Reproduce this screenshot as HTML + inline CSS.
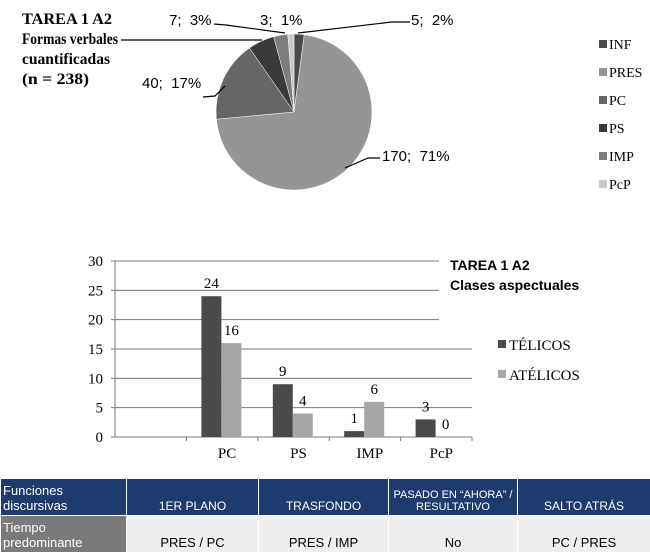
<!DOCTYPE html>
<html><head><meta charset="utf-8"><style>
body{margin:0;width:650px;height:554px;background:#fff;overflow:hidden;position:relative;font-family:"Liberation Serif",serif}
svg{position:absolute;left:0;top:0}
svg text{white-space:pre}
table{position:absolute;left:0;top:478px;width:650px;border-collapse:collapse;font-family:"Liberation Sans",sans-serif;table-layout:fixed}
td{border:1px solid #fff;font-size:12px;text-align:center;vertical-align:bottom;padding:0 2px 2px;height:34px}
.h td{background:#1f3a6d;color:#fff}
.h td.f{text-align:left;font-size:13px}
.b td{background:#eeeeee;color:#000;font-size:13px}
.b td.f{background:#7a7a7a;color:#fff;text-align:left}
</style></head><body>
<svg width="650" height="554" id="s">
<g id="pie"></g>
<g font-family="Liberation Sans" font-size="15" fill="#000">
<text x="169" y="25">7;  3%</text>
<text x="260" y="25">3;  1%</text>
<text x="411" y="25">5;  2%</text>
<text x="142" y="88">40;  17%</text>
<text x="382" y="161">170;  71%</text>
</g>
<g stroke="#000" stroke-width="1.2" fill="none">
<polyline points="214,24 226,25 285,33"/>
<line x1="121" y1="40" x2="262" y2="40"/>
<polyline points="298,33 392,22 410,22"/>
<polyline points="203,97 215,96 225,86"/>
<polyline points="345,168 368,158 380,158"/>
</g>
<g font-family="Liberation Serif" font-weight="bold" font-size="16">
<text x="22" y="24" textLength="90" lengthAdjust="spacingAndGlyphs">TAREA 1 A2</text>
<text x="22" y="44" textLength="96" lengthAdjust="spacingAndGlyphs">Formas verbales</text>
<text x="22" y="64" textLength="88" lengthAdjust="spacingAndGlyphs">cuantificadas</text>
<text x="22" y="84" textLength="67" lengthAdjust="spacingAndGlyphs">(n = 238)</text>
</g>
<g id="pleg"></g>
<g id="bar" font-family="Liberation Serif"></g>
<g font-family="Liberation Sans" font-weight="bold" font-size="14">
<text x="450" y="270">TAREA 1 A2</text>
<text x="450" y="290">Clases aspectuales</text>
</g>
</svg>
<table>
<colgroup><col style="width:126px"><col style="width:132px"><col style="width:130px"><col style="width:129px"><col style="width:133px"></colgroup>
<tr class="h"><td class="f">Funciones<br>discursivas</td><td>1ER PLANO</td><td>TRASFONDO</td><td style="font-size:11px">PASADO EN “AHORA” /<br>RESULTATIVO</td><td>SALTO ATRÁS</td></tr>
<tr class="b"><td class="f">Tiempo<br>predominante</td><td>PRES / PC</td><td>PRES / IMP</td><td>No</td><td>PC / PRES</td></tr>
</table>
<script>
const NS="http://www.w3.org/2000/svg";
function mk(p,t,a){const e=document.createElementNS(NS,t);for(const k in a)e.setAttribute(k,a[k]);p.appendChild(e);return e;}
// Pie data
const pieCats=["INF","PRES","PC","PS","IMP","PcP"];
const pieVals=[5,170,40,13,7,3];
const pieCols=["#4a4a4a","#959595","#666666","#3a3a3a","#7d7d7d","#c9c9c9"];
// Bar data
const barCats=["","PC","PS","IMP","PcP"];
const telicos=[null,24,9,1,3];
const atelicos=[null,16,4,6,0];
const yTicks=[0,5,10,15,20,25,30];
const seriesNames=["TÉLICOS","ATÉLICOS"];

const pie=document.getElementById('pie');
const cx=294,cy=112,r=78,tot=pieVals.reduce((a,b)=>a+b,0);
let a0=-Math.PI/2;
pieVals.forEach((v,i)=>{
 const a1=a0+v/tot*2*Math.PI;
 const x0=cx+r*Math.cos(a0),y0=cy+r*Math.sin(a0),x1=cx+r*Math.cos(a1),y1=cy+r*Math.sin(a1);
 const p=mk(pie,'path',{d:`M${cx},${cy}L${x0},${y0}A${r},${r} 0 ${a1-a0>Math.PI?1:0} 1 ${x1},${y1}Z`,fill:pieCols[i],stroke:'#fff','stroke-width':0.5});
 
 
 a0=a1;
});
const pl=document.getElementById('pleg');
pieCats.forEach((c,i)=>{
 const y=44+i*28;
 const g=mk(pl,'g',{});
 
 
 mk(g,'rect',{x:599,y:y-4,width:8,height:8,fill:pieCols[i]});
 const t=mk(g,'text',{x:609,y:y+5,'font-size':14,'font-family':'Liberation Serif'});t.textContent=c;
});

const bar=document.getElementById('bar');
const X0=115,Y0=437,H=176,cw=71.4;
const yS=v=>Y0-v/30*H;
yTicks.forEach(v=>{
 const y=yS(v);
 if(v>0){const l=mk(bar,'line',{x1:X0,x2:v>=20?439:472,y1:y,y2:y,stroke:'#777','stroke-width':1});
 }
 mk(bar,'line',{x1:X0-4,x2:X0,y1:y,y2:y,stroke:'#777'});
 const t=mk(bar,'text',{x:X0-12,y:y+5,'text-anchor':'end','font-size':15});t.textContent=v;
 
});
mk(bar,'line',{x1:X0,x2:X0,y1:yS(30),y2:Y0,stroke:'#777'});
mk(bar,'line',{x1:X0,x2:X0+cw*barCats.length,y1:Y0,y2:Y0,stroke:'#777'});
barCats.forEach((c,i)=>{
 const xs=X0+cw*i;
 mk(bar,'line',{x1:xs+cw,x2:xs+cw,y1:Y0,y2:Y0+4,stroke:'#777'});
 const t=mk(bar,'text',{x:xs+cw/2+5,y:Y0+21,'text-anchor':'middle','font-size':15});t.textContent=c;
 
 [[telicos,'#4a4a4a',0],[atelicos,'#a6a6a6',1]].forEach(([arr,col,k])=>{
  const v=arr[i]; if(v===null)return;
  const x=xs+15+k*20;
  const b=mk(bar,'rect',{x:x,y:yS(v),width:20,height:Y0-yS(v),fill:col});
  
  
  const lt=mk(bar,'text',{x:x+10,y:yS(v)-8,'text-anchor':'middle','font-size':15});lt.textContent=v;
  
 });
});
seriesNames.forEach((s,k)=>{
 const y=344+k*30;
 const g=mk(bar,'g',{});
 
 
 mk(g,'rect',{x:498,y:y-4,width:8,height:8,fill:k?'#a6a6a6':'#4a4a4a'});
 const t=mk(g,'text',{x:509,y:y+6,'font-size':15});t.textContent=s;
});
</script>
</body></html>
